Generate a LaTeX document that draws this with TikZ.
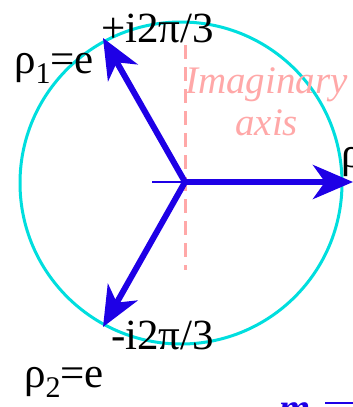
\documentclass[tikz,border=0pt]{standalone}
\usepackage{fontspec}
\setmainfont{Liberation Serif}
\usetikzlibrary{arrows.meta}
\definecolor{arrowblue}{RGB}{30,0,230}
\definecolor{circcyan}{RGB}{0,222,222}
\definecolor{axispink}{RGB}{255,168,168}
\tikzset{
  vec/.style={draw=arrowblue, line width=6pt, -{Stealth[length=40pt,width=34pt,inset=12pt]}},
  lbl/.style={inner sep=0pt, anchor=base west, font=\fontsize{43}{48}\selectfont},
  axlbl/.style={inner sep=0pt, anchor=base west, text=axispink, font=\fontsize{39}{44}\selectfont\itshape},
}
\newcommand{\lowsub}[1]{\raisebox{-0.25em}{\fontsize{30}{34}\selectfont #1}}
\begin{document}
\begin{tikzpicture}[x=1pt,y=-1pt]
\useasboundingbox (0,0) rectangle (353,407);
\clip (0,0) rectangle (353,407);
% circle
\node[draw=circcyan, line width=3pt, circle, minimum size=322pt, inner sep=0pt] (C) at (181,183) {};
% imaginary axis
\coordinate (ytop) at (185,45);
\coordinate (ybot) at (185,270);
\draw[axispink, line width=3pt, dash pattern=on 14pt off 8pt] (ytop) -- (ybot);
\node[axlbl] (im) at (185,93) {Imaginary};
\node[axlbl] (ax) at (235,135) {axis};
% origin and vectors
\coordinate (O) at (185,182);
\coordinate (L) at (152,182);
\coordinate (R) at (353,182);
\coordinate (UL) at (103,38);
\coordinate (DL) at (103,327);
\draw[arrowblue, line width=1.5pt] (L) -- (O);
\draw[vec] (O) -- (R);
\draw[vec] (O) -- (UL);
\draw[vec] (O) -- (DL);
% labels
\node[lbl] (tp) at (101,42) {+i2π/3};
\node[lbl] (bm) at (111,349) {-i2π/3};
\node[lbl] (r1) at (14,73) {ρ\lowsub{1}=e};
\node[lbl] (r2) at (24,387) {ρ\lowsub{2}=e};
\node[lbl] (r0) at (341,167) {ρ};
% cut-off fragment at the lower right
\node[inner sep=0pt, anchor=base west, text=arrowblue, font=\fontsize{40}{44}\selectfont\bfseries\itshape] (frag) at (279,421) {m};
\coordinate (f1) at (325,403);
\coordinate (f2) at (353,403);
\draw[arrowblue, line width=2.5pt] (f1) -- (f2);
\end{tikzpicture}
\end{document}
